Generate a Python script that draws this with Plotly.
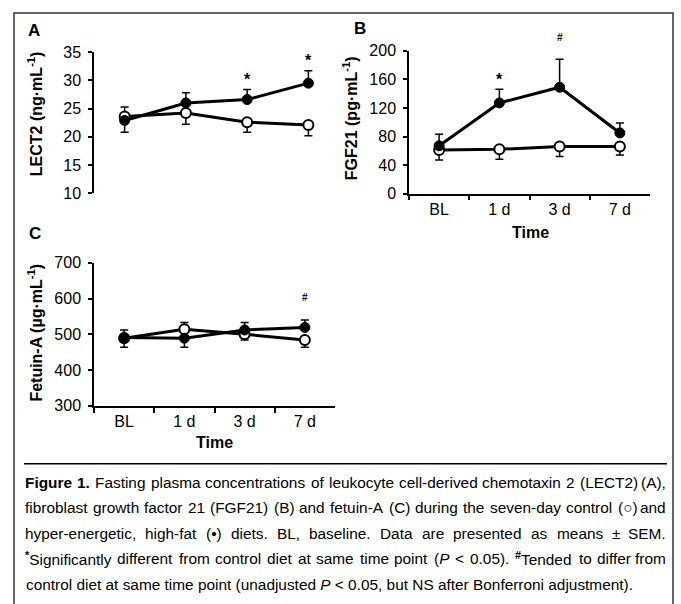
import re
import plotly.graph_objects as go

W, H = 681, 604

categories = ["BL", "1 d", "3 d", "7 d"]

# Panel A: LECT2 (ng/mL)
lect2_ctrl = [23.6, 24.2, 22.6, 22.1]
lect2_hf = [22.9, 26.0, 26.6, 29.5]
lect2_ctrl_err_up = [1.7, 0, 0, 0]
lect2_ctrl_err_down = [0, 1.95, 1.8, 1.9]
lect2_hf_err_up = [0, 1.8, 1.8, 2.2]
lect2_hf_err_down = [2.1, 0, 0, 0]
lect2_marks = ["", "", "*", "*"]

# Panel B: FGF21 (pg/mL)
fgf21_ctrl = [61, 62, 66, 66]
fgf21_hf = [67, 127, 149, 85]
fgf21_ctrl_err_up = [0, 0, 0, 0]
fgf21_ctrl_err_down = [14, 14, 14, 12]
fgf21_hf_err_up = [16, 19, 39, 14]
fgf21_hf_err_down = [0, 0, 0, 0]
fgf21_marks = ["", "*", "#", ""]

# Panel C: Fetuin-A (ug/mL)
fetuin_ctrl = [489, 514, 500, 484]
fetuin_hf = [491, 489, 512, 519]
fetuin_ctrl_err_up = [0, 19, 0, 0]
fetuin_ctrl_err_down = [25, 0, 16, 20]
fetuin_hf_err_up = [21, 0, 21, 21]
fetuin_hf_err_down = [0, 25, 0, 0]
fetuin_marks = ["", "", "", "#"]

caption_lines = [
    "<b>Figure 1.</b> Fasting plasma concentrations of leukocyte cell-derived chemotaxin 2 (LECT2) (A),",
    "fibroblast growth factor 21 (FGF21) (B) and fetuin-A (C) during the seven-day control (○) and",
    "hyper-energetic, high-fat (•) diets. BL, baseline. Data are presented as means ± SEM.",
    "<sup><b>*</b></sup>Significantly different from control diet at same time point (<i>P</i> &lt; 0.05). <sup><b>#</b></sup>Tended to differ from",
    "control diet at same time point (unadjusted <i>P</i> &lt; 0.05, but NS after Bonferroni adjustment).",
]

FONT = "Liberation Sans, Arial, Helvetica, sans-serif"

# calibration of layout pixel positions
SX, OX = 1.0, 0.0
SY, OY = 0.970, 8.0


def px(x):
    return ((x - OX) / SX) / W


def py(y):
    return 1 - ((y - OY) / SY) / H


fig = go.Figure()


def add_panel(n, ctrl, hf, cu, cd, hu, hd, marks):
    xa = "x" if n == 1 else f"x{n}"
    ya = "y" if n == 1 else f"y{n}"
    fig.add_trace(go.Scatter(
        x=categories, y=ctrl, xaxis=xa, yaxis=ya, mode="lines+markers",
        line=dict(color="black", width=3),
        marker=dict(symbol="circle", size=10, color="white",
                    line=dict(color="black", width=2)),
        error_y=dict(type="data", symmetric=False, array=cu, arrayminus=cd,
                     color="black", thickness=1.5, width=4),
        cliponaxis=False, showlegend=False, name="Control"))
    fig.add_trace(go.Scatter(
        x=categories, y=hf, xaxis=xa, yaxis=ya, mode="lines+markers",
        line=dict(color="black", width=3),
        marker=dict(symbol="circle", size=10, color="black",
                    line=dict(color="black", width=1)),
        error_y=dict(type="data", symmetric=False, array=hu, arrayminus=hd,
                     color="black", thickness=1.5, width=4),
        cliponaxis=False, showlegend=False, name="High-fat"))
    for i, m in enumerate(marks):
        if not m:
            continue
        top = max(ctrl[i] + cu[i], hf[i] + hu[i])
        if m == "*":
            fig.add_annotation(x=categories[i], y=top, xref=xa, yref=ya,
                               text="<b>*</b>", showarrow=False,
                               font=dict(family=FONT, size=16, color="black"),
                               yanchor="middle", yshift=10)
        else:
            fig.add_annotation(x=categories[i], y=top, xref=xa, yref=ya,
                               text="<b>#</b>", showarrow=False,
                               font=dict(family=FONT, size=10, color="black"),
                               yanchor="middle", yshift=22)


add_panel(1, lect2_ctrl, lect2_hf, lect2_ctrl_err_up, lect2_ctrl_err_down,
          lect2_hf_err_up, lect2_hf_err_down, lect2_marks)
add_panel(2, fgf21_ctrl, fgf21_hf, fgf21_ctrl_err_up, fgf21_ctrl_err_down,
          fgf21_hf_err_up, fgf21_hf_err_down, fgf21_marks)
add_panel(3, fetuin_ctrl, fetuin_hf, fetuin_ctrl_err_up, fetuin_ctrl_err_down,
          fetuin_hf_err_up, fetuin_hf_err_down, fetuin_marks)

tickfont = dict(family=FONT, size=16, color="black")
yax = dict(showline=True, linecolor="black", linewidth=1.5, ticks="outside",
           ticklen=4, tickwidth=1.5, tickcolor="black", showgrid=False,
           zeroline=False, tickfont=tickfont, ticklabelstandoff=4)
xax = dict(type="category", range=[-0.5, 3.5], showline=True, linecolor="black",
           linewidth=1.5, ticks="outside", ticklen=5, tickwidth=1.5,
           tickcolor="black", tickson="boundaries", showgrid=False,
           zeroline=False, tickfont=tickfont)

fig.update_layout(
    width=W, height=H, margin=dict(l=0, r=0, t=0, b=0),
    paper_bgcolor="white", plot_bgcolor="white", showlegend=False,
    font=dict(family=FONT, color="black"),
    xaxis=dict(domain=[px(94), px(339)], anchor="y", type="category",
               range=[-0.5, 3.5], visible=False),
    yaxis=dict(domain=[py(193), py(52)], anchor="x", range=[10, 35], dtick=5,
               **yax),
    xaxis2=dict(domain=[px(409), px(650)], anchor="y2", **xax),
    yaxis2=dict(domain=[py(193.3), py(50.7)], anchor="x2", range=[0, 200],
                dtick=40, **yax),
    xaxis3=dict(domain=[px(94), px(335)], anchor="y3", **xax),
    yaxis3=dict(domain=[py(405), py(262.3)], anchor="x3", range=[300, 700],
                dtick=100, **yax),
)

# frame and separator
fig.add_shape(type="rect", xref="paper", yref="paper", x0=px(14), x1=px(673),
              y0=-0.05, y1=py(13), line=dict(color="#333333", width=1.5))
fig.add_shape(type="line", xref="paper", yref="paper", x0=px(24), x1=px(667),
              y0=py(463), y1=py(463), line=dict(color="black", width=1.5))


def ann(text, x, y, size, xanchor="center", angle=0, yanchor="middle"):
    fig.add_annotation(text=text, x=px(x), y=py(y), xref="paper", yref="paper",
                       showarrow=False, xanchor=xanchor, yanchor=yanchor,
                       textangle=angle,
                       font=dict(family=FONT, size=size, color="black"))


# panel letters
ann("<b>A</b>", 34, 30, 17)
ann("<b>B</b>", 360, 28, 17)
ann("<b>C</b>", 35, 233, 17)

# y titles
ann("<b>LECT2 (ng·mL<sup>-1</sup>)</b>", 35, 114, 16, angle=-90)
ann("<b>FGF21 (pg·mL<sup>-1</sup>)</b>", 350, 118, 16, angle=-90)
ann("<b>Fetuin-A (µg·mL<sup>-1</sup>)</b>", 35, 332, 16, angle=-90)

# x titles
ann("<b>Time</b>", 530, 232, 16)
ann("<b>Time</b>", 214, 442, 16)

# ---- caption, justified like the original ----
REG = {" ": 278, "!": 278, "#": 556, "%": 889, "&": 667, "(": 333, ")": 333,
       "*": 389, "+": 584, ",": 278, "-": 333, ".": 278, "/": 278, ":": 278,
       ";": 278, "<": 584, "=": 584, ">": 584, "?": 556, "±": 584, "○": 604,
       "•": 350,
       "A": 667, "B": 667, "C": 722, "D": 722, "E": 667, "F": 611, "G": 778,
       "H": 722, "I": 278, "J": 500, "K": 667, "L": 556, "M": 833, "N": 722,
       "O": 778, "P": 667, "Q": 778, "R": 722, "S": 667, "T": 611, "U": 722,
       "V": 667, "W": 944, "X": 667, "Y": 667, "Z": 611,
       "a": 556, "b": 556, "c": 500, "d": 556, "e": 556, "f": 278, "g": 556,
       "h": 556, "i": 222, "j": 222, "k": 500, "l": 222, "m": 833, "n": 556,
       "o": 556, "p": 556, "q": 556, "r": 333, "s": 500, "t": 278, "u": 556,
       "v": 500, "w": 722, "x": 500, "y": 500, "z": 500}
for d in "0123456789":
    REG[d] = 556
BOLD = {"F": 611, "i": 278, "g": 611, "u": 611, "r": 389, "e": 556, "1": 556,
        ".": 278, "*": 389, "#": 556}


def parse_words(line):
    words, cur = [], []
    style = {"b": False, "i": False, "sup": False}
    for tok in re.findall(r"</?(?:b|i|sup)>|&lt;|.", line):
        if len(tok) > 1 and tok.startswith("<"):
            style[tok.strip("</>")] = not tok.startswith("</")
            continue
        ch = "<" if tok == "&lt;" else tok
        if ch == " ":
            if cur:
                words.append(cur)
                cur = []
        else:
            cur.append((ch, style["b"], style["i"], style["sup"]))
    if cur:
        words.append(cur)
    return words


def word_markup(word):
    out = ""
    for ch, b, it, s in word:
        c = "&lt;" if ch == "<" else ch
        if s:
            c = f"<sup>{c}</sup>"
        if it:
            c = f"<i>{c}</i>"
        if b:
            c = f"<b>{c}</b>"
        out += c
    return out.replace("</b><b>", "").replace("</i><i>", "")


def word_width(word, size):
    w = 0
    for ch, b, it, s in word:
        m = BOLD.get(ch, REG.get(ch, 556) * 1.05) if b else REG.get(ch, 556)
        w += m * (0.7 if s else 1.0)
    return w * size / 1000


CAP_SIZE = 15.4
caption_y = [482, 507, 532, 557, 583]
left_in = (24 - OX) / SX
right_in = (667 - OX) / SX
for li, (t, yy) in enumerate(zip(caption_lines, caption_y)):
    if li == len(caption_lines) - 1:
        ann(t, 24, yy, CAP_SIZE, xanchor="left")
        continue
    words = parse_words(t)
    widths = [word_width(w, CAP_SIZE) for w in words]
    gap = (right_in - left_in - sum(widths)) / (len(words) - 1)
    xcur = left_in
    for k, (w, ww) in enumerate(zip(words, widths)):
        last = k == len(words) - 1
        fig.add_annotation(
            text=word_markup(w), x=(right_in if last else xcur) / W, y=py(yy),
            xref="paper", yref="paper", showarrow=False,
            xanchor="right" if last else "left", yanchor="middle", borderpad=0,
            font=dict(family=FONT, size=CAP_SIZE, color="black"))
        xcur += ww + gap

fig.write_html(
    "out.html",
    config={"displayModeBar": False},
    post_script="document.body.style.margin='0';document.body.style.overflow='hidden';",
)
